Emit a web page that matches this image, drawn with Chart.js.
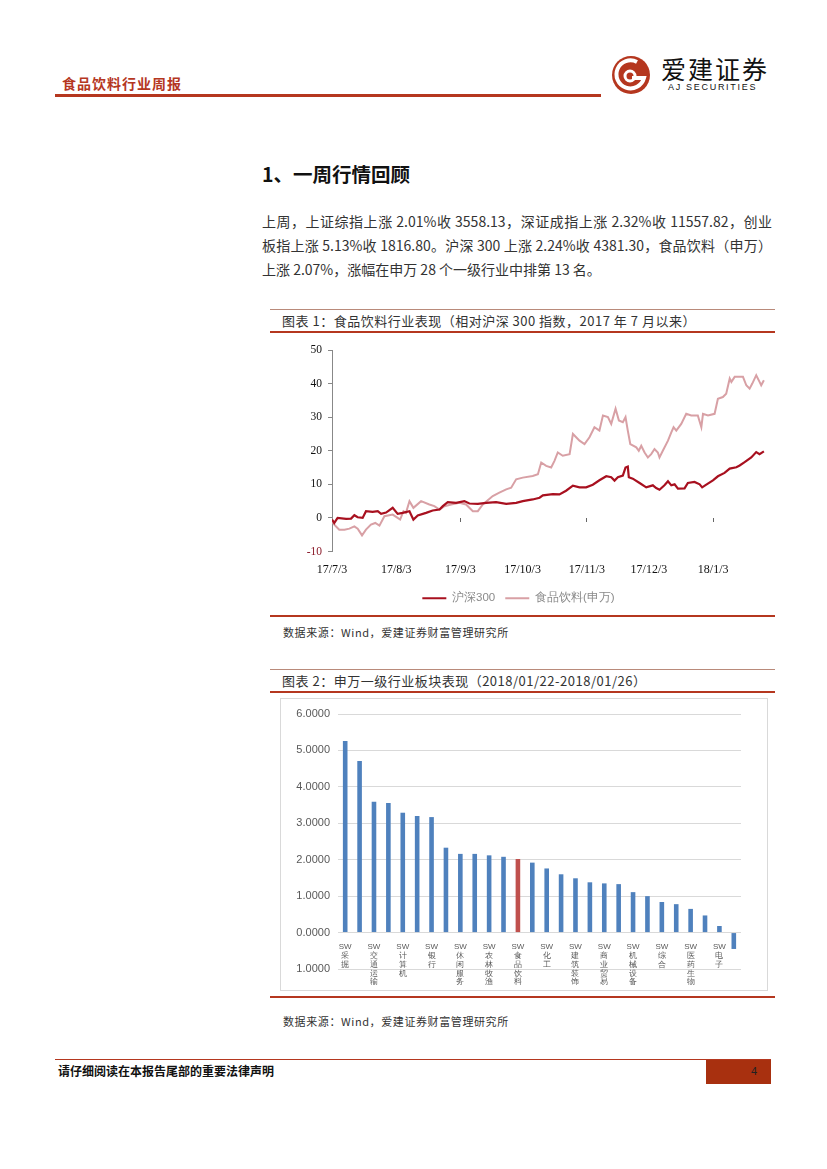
<!DOCTYPE html>
<html>
<head>
<meta charset="utf-8">
<script src="https://cdn.jsdelivr.net/npm/chart.js@4.4.1/dist/chart.umd.min.js"></script>
<style>
  body { margin: 0; width: 827px; height: 1169px; position: relative; background: #fff; overflow: hidden;
         font-family: "Noto Sans CJK SC", sans-serif; color: #222; }
  .abs { position: absolute; }
  .line { position: absolute; height: 0; }
  .para { position: absolute; left: 262px; width: 510px; font-size: 14px; line-height: 24px; white-space: nowrap;
          text-align: justify; text-align-last: justify; color: #333; }
  .cap { position: absolute; left: 282px; font-size: 13px; line-height: 16px; color: #333; letter-spacing: 0.5px; }
  .src { position: absolute; left: 283px; font-size: 11px; line-height: 14px; color: #333; letter-spacing: 0.6px; }
</style>
</head>
<body>

<!-- header -->
<div class="abs" style="left:62px;top:75px;font-size:14px;line-height:16px;font-weight:700;color:#b5371f;letter-spacing:1px;">食品饮料行业周报</div>
<div class="line" style="left:55px;top:94px;width:546px;border-top:3px solid #b5371f;"></div>
<svg class="abs" style="left:610px;top:54px;" width="42" height="42" viewBox="0 0 42 42">
  <circle cx="21" cy="21" r="19" fill="#b5371f"/>
  <path d="M27 8 A14 14 0 1 0 34 24 L22 24" fill="none" stroke="#fff" stroke-width="4"/>
  <circle cx="20" cy="22" r="5" fill="none" stroke="#fff" stroke-width="3"/>
</svg>
<div class="abs" style="left:661px;top:53px;font-size:25px;line-height:30px;color:#111;letter-spacing:2px;">爱建证券</div>
<div class="abs" style="left:668px;top:82px;font-size:9px;line-height:11px;color:#111;letter-spacing:1.7px;font-family:'Liberation Sans',sans-serif;">AJ SECURITIES</div>

<!-- section -->
<div class="abs" style="left:262px;top:161px;font-size:19.5px;line-height:26px;font-weight:700;color:#111;">1、一周行情回顾</div>
<div class="para" style="top:209px;">上周，上证综指上涨 2.01%收 3558.13，深证成指上涨 2.32%收 11557.82，创业</div>
<div class="para" style="top:233px;">板指上涨 5.13%收 1816.80。沪深 300 上涨 2.24%收 4381.30，食品饮料（申万）</div>
<div class="para" style="top:257px;text-align:left;text-align-last:left;">上涨 2.07%，涨幅在申万 28 个一级行业中排第 13 名。</div>

<!-- figure 1 -->
<div class="line" style="left:270px;top:309px;width:505px;border-top:1px solid #b98a7a;"></div>
<div class="cap" style="top:313px;">图表 1：食品饮料行业表现（相对沪深 300 指数，2017 年 7 月以来）</div>
<div class="line" style="left:270px;top:331px;width:505px;border-top:2.5px solid #b5371f;"></div>
<canvas id="lineChart" class="abs" style="left:270px;top:336px;" width="505" height="278"></canvas>
<div class="line" style="left:270px;top:615px;width:505px;border-top:2.5px solid #b5371f;"></div>
<div class="src" style="top:625px;">数据来源：Wind，爱建证券财富管理研究所</div>

<!-- figure 2 -->
<div class="line" style="left:270px;top:669px;width:505px;border-top:1px solid #b98a7a;"></div>
<div class="cap" style="top:673px;">图表 2：申万一级行业板块表现（2018/01/22-2018/01/26）</div>
<div class="line" style="left:270px;top:691px;width:505px;border-top:2.5px solid #b5371f;"></div>
<div class="abs" style="left:280px;top:698px;width:486px;height:291px;border:1px solid #d9d9d9;"></div>
<canvas id="barChart" class="abs" style="left:281px;top:699px;" width="486" height="291"></canvas>
<div class="line" style="left:270px;top:996px;width:505px;border-top:2.5px solid #b5371f;"></div>
<div class="src" style="top:1014px;">数据来源：Wind，爱建证券财富管理研究所</div>

<!-- footer -->
<div class="line" style="left:55px;top:1059px;width:716px;border-top:1px solid #b5371f;"></div>
<div class="abs" style="left:58px;top:1064px;font-size:12px;line-height:14px;font-weight:700;color:#111;">请仔细阅读在本报告尾部的重要法律声明</div>
<div class="abs" style="left:706px;top:1060px;width:65px;height:24px;background:#a8300f;"></div>
<div class="abs" style="left:751px;top:1065px;font-size:11px;line-height:13px;color:#222;font-family:'Liberation Sans',sans-serif;">4</div>

<script>
// figure 1: days counted from 2017/7/3
const monthDays = [0, 31, 62, 92, 123, 153, 184];
const monthLabels = ["17/7/3", "17/8/3", "17/9/3", "17/10/3", "17/11/3", "17/12/3", "18/1/3"];
const axisTickDays = [62, 123, 184];

const hsDays = [0, 1.1, 2.7, 6.8, 9.2, 10.8, 12.4, 14.8, 16.4, 19.6, 22.1, 23.7, 26.1, 29.3, 31.7, 34.1, 37.4, 39.3, 41.4, 45.4,
  48.6, 51.9, 53.5, 55.9, 59.9, 63.9, 66.3, 70.4, 74.4, 79.2, 84.1, 88.9, 92.1, 96.9, 100.2, 101.8, 106.6, 109.8, 113, 116.3,
  119.5, 122.7, 125.9, 129.1, 132.4, 134.8, 136.4, 138, 140.4, 141.7, 142.8, 143.3, 145.2, 148.5, 151.7, 154.9, 156.5, 158.1, 160.5, 162.2,
  163.8, 165.4, 167, 170.2, 171.8, 175, 177.5, 178.7, 180.7, 183.9, 186.3, 189.5, 192, 195.2, 196.8, 199.2, 202.4, 204.8, 206.4, 208.5];
const hsValues = [-0.5, -1.5, 0, -0.3, -0.2, 0.8, 0.2, 0, 2, 1.8, 2, 1.2, 1.6, 3, 1.2, 1.5, 2, -0.5, 0.7, 1.5,
  2.2, 2.5, 3.5, 4.7, 4.5, 5, 4.3, 4.2, 4.5, 4.7, 4.2, 4.5, 5, 5.5, 6, 6.7, 7.1, 7, 8.1, 9.6,
  9.1, 9.1, 9.9, 11.2, 12.4, 12.1, 11.1, 12.1, 12.6, 15, 15.3, 12.1, 11.7, 10.4, 9.1, 9.7, 8.9, 8.4, 9.7, 10.9,
  9.7, 10, 8.7, 8.8, 10.4, 10.7, 10, 9.1, 9.9, 11.2, 12.4, 13.4, 14.7, 15.1, 15.6, 16.6, 18, 19.6, 19, 19.8];

const foodDays = [0, 1.1, 3.5, 6, 8.4, 10.8, 12.4, 14.5, 16.4, 18.8, 20.9, 22.9, 25.3, 29.3, 31.7, 32.9, 34.5, 35.7, 37.4, 39.3,
  43, 47, 49.4, 51.9, 54.3, 57.5, 61.5, 64.7, 68, 70.4, 72.8, 77.6, 80.8, 84.1, 86.5, 88.9, 92.1, 96.9, 99.4, 101,
  103.4, 105.8, 107.4, 109, 111.4, 114.7, 116.3, 119.5, 121.9, 124.3, 126.7, 129.1, 130.8, 133.2, 134.8, 136.9, 138.5, 140.4, 141.7, 142.8,
  144, 146.9, 148.1, 149.3, 150.9, 152.5, 154.1, 155.7, 157.3, 158.1, 159.7, 162.2, 163.8, 164.9, 166.2, 168.6, 171, 173.4, 176.6, 178.3,
  179.1, 181.5, 184.7, 186.3, 188.7, 190.3, 192, 192.8, 194.4, 198.4, 200, 201.6, 202.9, 204.8, 206.4, 207.2, 208.5];
const foodValues = [-1, -2, -3.5, -3.5, -3.2, -2.5, -3.2, -5.2, -3.5, -2, -1.5, -2.3, 0.5, 1, 0, -0.5, 2, 1.5, 5, 3,
  5, 4, 3.5, 2.5, 3.5, 4, 4.5, 4, 2, 2, 4, 6.5, 7.5, 8.5, 9, 11.5, 12, 12.5, 13, 16.5,
  15.5, 15, 17, 19.5, 18.5, 19, 25, 23, 22, 24, 27, 26, 30.5, 30, 28, 32.5, 29, 28.5, 30, 26,
  22, 21, 20, 21.5, 19.5, 18, 19, 20.5, 19.5, 18, 20, 23, 25.5, 27, 26, 28, 31, 30.5, 30.5, 27,
  31, 30.5, 31, 35.5, 36, 37, 41.5, 40.5, 42, 42, 39.5, 38.5, 40, 42.5, 40.5, 39.5, 41];

// figure 2
const industries = ["采掘", "钢铁", "交通运输", "有色金属", "计算机", "建筑材料", "银行", "非银金融", "休闲服务", "房地产",
  "农林牧渔", "家用电器", "食品饮料", "公用事业", "化工", "汽车", "建筑装饰", "轻工制造", "商业贸易", "纺织服装",
  "机械设备", "电气设备", "综合", "传媒", "医药生物", "通信", "电子", "国防军工"];
const weekChange = [5.26, 4.71, 3.59, 3.56, 3.29, 3.20, 3.17, 2.33, 2.16, 2.16, 2.12, 2.08, 2.02, 1.92, 1.76, 1.60, 1.49, 1.38,
  1.35, 1.33, 1.11, 1.00, 0.84, 0.78, 0.65, 0.47, 0.18, -0.45];

const serif = "'Liberation Serif', 'DejaVu Serif', serif";

new Chart(document.getElementById("lineChart"), {
  type: "line",
  data: {
    datasets: [
      {
        label: "沪深300",
        data: hsDays.map((d, i) => ({ x: d, y: hsValues[i] })),
        borderColor: "#a8101f",
        backgroundColor: "#a8101f",
        borderWidth: 2.2,
        pointRadius: 0,
      },
      {
        label: "食品饮料(申万)",
        data: foodDays.map((d, i) => ({ x: d, y: foodValues[i] })),
        borderColor: "#d8a0a5",
        backgroundColor: "#d8a0a5",
        borderWidth: 2,
        pointRadius: 0,
      },
    ],
  },
  options: {
    responsive: false,
    animation: false,
    layout: { padding: { top: 14, right: 8, left: 0, bottom: 0 } },
    scales: {
      x: {
        type: "linear",
        min: 0,
        max: 210,
        grid: { display: false },
        border: { display: false },
        afterBuildTicks: (axis) => { axis.ticks = monthDays.map((v) => ({ value: v })); },
        afterFit: (axis) => { axis.height = 31; },
        ticks: {
          padding: 3,
          maxRotation: 0,
          autoSkip: false,
          color: "#111",
          font: { family: serif, size: 12 },
          callback: (v, i) => monthLabels[i],
        },
      },
      x2: {
        type: "linear",
        min: 0,
        max: 210,
        position: { y: 0 },
        grid: { drawOnChartArea: false, tickLength: 4, color: "#666" },
        border: { display: false },
        afterBuildTicks: (axis) => { axis.ticks = axisTickDays.map((v) => ({ value: v })); },
        afterFit: (axis) => { axis.height = 0; },
        ticks: { display: false },
      },
      y: {
        min: -10,
        max: 50,
        ticks: {
          stepSize: 10,
          padding: 6,
          font: { family: serif, size: 11.5 },
          color: (c) => (c.tick.value < 0 ? "#8b1a2a" : "#111"),
        },
        grid: { drawOnChartArea: false, tickLength: 4, color: "#888" },
        border: { color: "#888" },
        afterFit: (axis) => { axis.width = 62; },
      },
    },
    plugins: {
      legend: {
        position: "bottom",
        labels: {
          usePointStyle: true,
          pointStyle: "line",
          pointStyleWidth: 24,
          padding: 10,
          color: "#8a8a8a",
          font: { size: 11.5 },
        },
      },
      tooltip: { enabled: false },
    },
  },
});

new Chart(document.getElementById("barChart"), {
  type: "bar",
  data: {
    labels: industries.map((n) => ["SW"].concat(n.split(""))),
    datasets: [
      {
        data: weekChange,
        backgroundColor: industries.map((n) => (n === "食品饮料" ? "#c0504d" : "#4f81bd")),
        barPercentage: 0.32,
        categoryPercentage: 1,
      },
    ],
  },
  options: {
    responsive: false,
    animation: false,
    layout: { padding: { top: 15, right: 26, left: 0, bottom: 21 } },
    scales: {
      x: {
        position: { y: 0 },
        grid: { display: false },
        border: { display: false },
        afterFit: (axis) => { axis.height = 0; },
        ticks: {
          autoSkip: false,
          maxRotation: 0,
          minRotation: 0,
          padding: 2,
          color: "#595959",
          font: { size: 8, lineHeight: 1.1 },
          callback: function (v, i) { return i % 2 === 0 ? this.getLabelForValue(v) : ""; },
        },
      },
      y: {
        min: -1,
        max: 6,
        ticks: {
          stepSize: 1,
          padding: 8,
          color: "#595959",
          font: { family: "'Liberation Sans', sans-serif", size: 11 },
          callback: (v) => Math.abs(v).toFixed(4),
        },
        grid: { color: "#d9d9d9", drawTicks: false },
        border: { display: false },
        afterFit: (axis) => { axis.width = 57; },
      },
    },
    plugins: { legend: { display: false }, tooltip: { enabled: false } },
  },
});
</script>
</body>
</html>
